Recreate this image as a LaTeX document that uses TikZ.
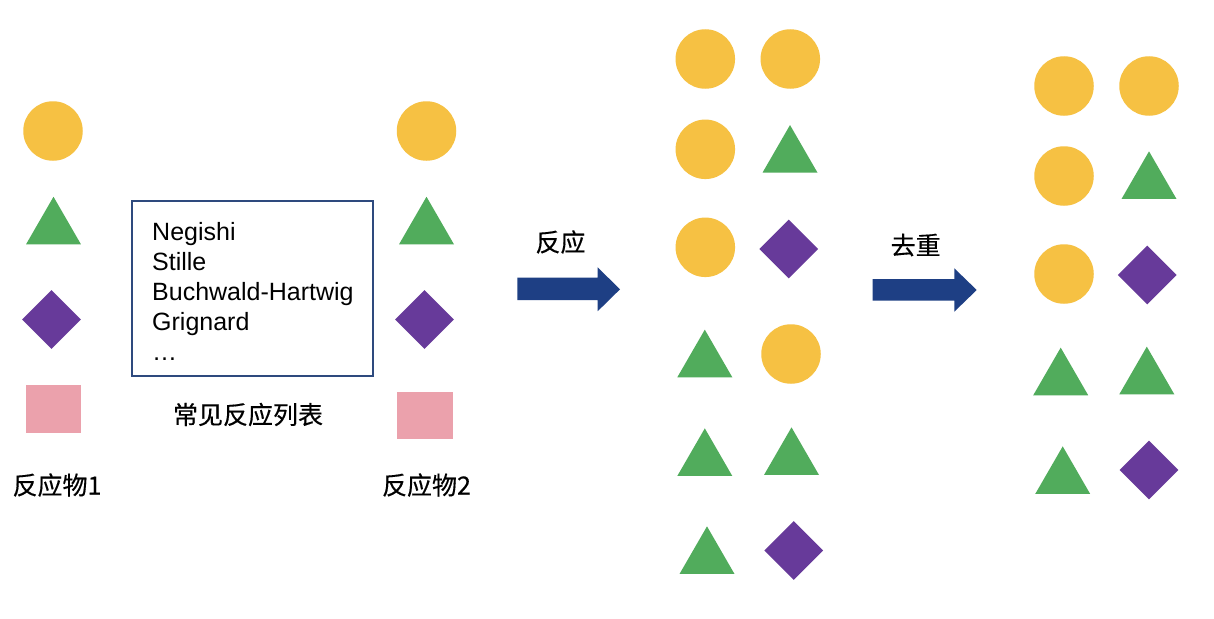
\documentclass[tikz,border=0pt]{standalone}
\usepackage{fontspec}
\setmainfont{Liberation Sans}
\newfontfamily\cjk{Noto Sans CJK SC}[FakeBold=0.4]
\usetikzlibrary{shapes.geometric}
\definecolor{cyel}{HTML}{F6C143}
\definecolor{cgrn}{HTML}{51AC5C}
\definecolor{cpur}{HTML}{673A9A}
\definecolor{cpnk}{HTML}{EBA1AC}
\definecolor{cnavy}{HTML}{1E3F84}
\definecolor{cbox}{HTML}{2E4A7E}
\begin{document}
\begin{tikzpicture}[x=1pt,y=-1pt,
 ball/.style={circle,fill=cyel,minimum size=59.5pt,inner sep=0pt},
 tri/.style={regular polygon,regular polygon sides=3,fill=cgrn,minimum size=63.5pt,inner sep=0pt},
 dia/.style={diamond,fill=cpur,minimum width=59pt,minimum height=59pt,inner sep=0pt},
 sqr/.style={rectangle,fill=cpnk,inner sep=0pt},
 cjklabel/.style={font=\cjk\fontsize{25}{30}\selectfont,inner sep=0pt},
 listtxt/.style={font=\fontsize{25}{30}\selectfont,inner sep=0pt,anchor=base west},
 blockarrow/.style={fill=cnavy}]
\useasboundingbox[fill=white] (0,0) rectangle (1214,618);

% reactant 1
\node[ball] (a1) at (53,131) {};
\node[tri] (a2) at (53.5,228.5) {};
\node[dia] (a3) at (51.5,319.5) {};
\node[sqr,minimum width=55pt,minimum height=48pt] (a4) at (53.5,409) {};
\node[cjklabel] (la) at (57,485) {反应物1};

% reaction list
\node[draw=cbox,line width=1.7pt,minimum width=241pt,minimum height=175pt,anchor=north west,inner sep=0pt] (box) at (131,200) {};
\node[listtxt] (t1) at (152,240) {Negishi};
\node[listtxt] (t2) at (152,270) {Stille};
\node[listtxt] (t3) at (152,300) {Buchwald-Hartwig};
\node[listtxt] (t4) at (152,330) {Grignard};
\node[listtxt] (t5) at (152,360) {…};
\node[cjklabel] (lbox) at (248,414.5) {常见反应列表};

% reactant 2
\node[ball] (b1) at (426.5,131) {};
\node[tri] (b2) at (426.5,228.5) {};
\node[dia] (b3) at (424.5,319.5) {};
\node[sqr,minimum width=56pt,minimum height=47pt] (b4) at (425,415.5) {};
\node[cjklabel] (lb) at (426.5,485) {反应物2};

% arrow 1
\fill[blockarrow] (517.3,277.6) -- (597.7,277.6) -- (597.7,267.4) -- (620,289.3)
  -- (597.7,311.2) -- (597.7,300.2) -- (517.3,300.2) -- cycle;
\node[cjklabel] (r1) at (560.5,242) {反应};

% products
\node[ball] (p11) at (705.3,59) {};
\node[ball] (p12) at (790.3,59) {};
\node[ball] (p21) at (705.3,149.3) {};
\node[tri] (p22) at (790,156.8) {};
\node[ball] (p31) at (705.3,247.3) {};
\node[dia] (p32) at (788.7,249) {};
\node[tri] (p41) at (704.8,361.4) {};
\node[ball] (p42) at (791,354) {};
\node[tri] (p51) at (704.8,460.1) {};
\node[tri] (p52) at (791.5,459.1) {};
\node[tri] (p61) at (707,558.1) {};
\node[dia] (p62) at (793.8,550.5) {};

% arrow 2
\fill[blockarrow] (872.7,279) -- (954.3,279) -- (954.3,268.3) -- (976.7,290)
  -- (954.3,311.7) -- (954.3,300.7) -- (872.7,300.7) -- cycle;
\node[cjklabel] (r2) at (915.7,245) {去重};

% deduplicated
\node[ball] (q11) at (1064,86) {};
\node[ball] (q12) at (1149,86) {};
\node[ball] (q21) at (1064,176) {};
\node[tri] (q22) at (1149,183.1) {};
\node[ball] (q31) at (1064,274) {};
\node[dia] (q32) at (1147.3,275) {};
\node[tri] (q41) at (1060.7,379.4) {};
\node[tri] (q42) at (1146.8,378.4) {};
\node[tri] (q51) at (1062.7,478.1) {};
\node[dia] (q52) at (1149,470) {};
\end{tikzpicture}
\end{document}
